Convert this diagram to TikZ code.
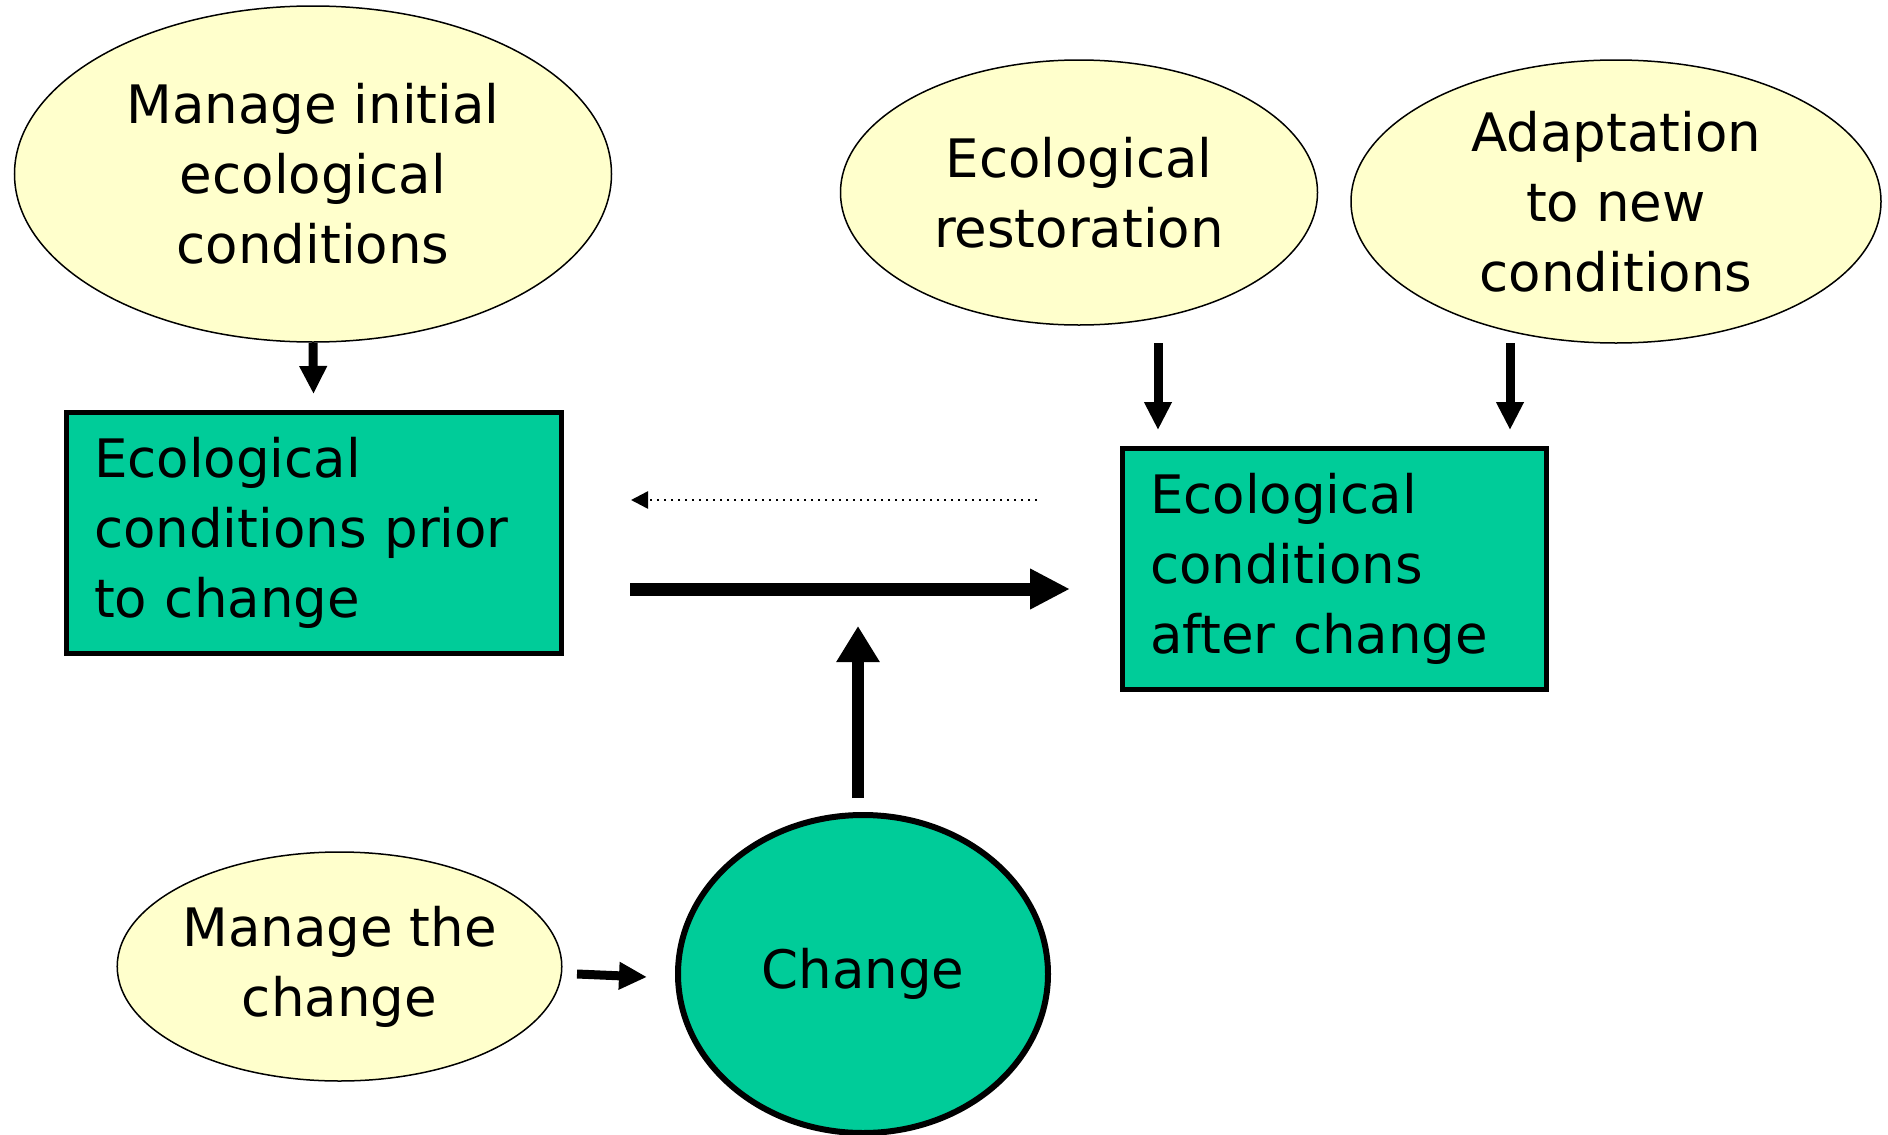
\documentclass[tikz,border=0pt]{standalone}
\usepackage{fontspec}
\setmainfont{DejaVu Sans}
\usetikzlibrary{shapes.geometric,arrows.meta}
\definecolor{ecogreen}{RGB}{0,204,153}
\definecolor{paleyellow}{RGB}{255,255,204}
\begin{document}
\begin{tikzpicture}[x=1pt,y=-1pt,
  txt/.style={font=\fontsize{53}{70}\selectfont},
  oval/.style={ellipse,draw=black,line width=1.5pt,fill=paleyellow,inner sep=0pt,align=center,txt},
  stagebox/.style={rectangle,draw=black,line width=5pt,fill=ecogreen,inner xsep=28pt,inner ysep=0pt,align=left,txt},
  changeoval/.style={ellipse,draw=black,line width=6pt,fill=ecogreen,inner sep=0pt,txt},
  bigarrow/.style={line width=13pt,-{Triangle[length=40pt,width=38pt]}},
  uparrow/.style={line width=12pt,-{Triangle[length=36pt,width=41pt]}},
  smallarrow/.style={line width=9pt,-{Triangle[length=28pt,width=26pt]}},
  dotarrow/.style={line width=2.5pt,dash pattern=on 2.5pt off 4.5pt,-{Triangle[length=17pt,width=17pt]}}
]
\useasboundingbox (0,0) rectangle (1888,1135);

% nodes
\node[oval,minimum width=597pt,minimum height=336pt] (e1) at (313,174) {Manage initial\\ecological\\conditions};
\node[oval,minimum width=477pt,minimum height=265pt] (e2) at (1079,192.5) {Ecological\\restoration};
\node[oval,minimum width=530pt,minimum height=283pt] (e3) at (1616,201.5) {Adaptation\\to new\\conditions};
\node[oval,minimum width=441pt,minimum height=229pt] (e4) at (339.5,966.5) {Manage the\\change};

\node[stagebox,minimum width=495pt,minimum height=241pt,text width=439pt] (b1) at (313.5,532.5) {Ecological\\conditions prior\\to change};
\node[stagebox,minimum width=424pt,minimum height=241pt,text width=368pt] (b2) at (1334,568.5) {Ecological\\conditions\\after change};

\node[changeoval,minimum width=370pt,minimum height=318pt] (ch) at (863,974) {Change};

% connector end points
\coordinate (b1in) at (313.5,394);
\coordinate (r1s) at (1158,343);
\coordinate (r1e) at (1158,430);
\coordinate (r2s) at (1510,343);
\coordinate (r2e) at (1510,430);
\coordinate (fwds) at (630,589);
\coordinate (fwde) at (1070,589);
\coordinate (backs) at (1037,500);
\coordinate (backe) at (631,500);
\coordinate (ups) at (858,798);
\coordinate (upe) at (858,626);
\coordinate (mgs) at (577,974);
\coordinate (mge) at (647,977);

% connectors
\draw[smallarrow] (e1.south) -- (b1in);
\draw[smallarrow] (r1s) -- (r1e);
\draw[smallarrow] (r2s) -- (r2e);
\draw[bigarrow] (fwds) -- (fwde);
\draw[dotarrow] (backs) -- (backe);
\draw[uparrow] (ups) -- (upe);
\draw[smallarrow] (mgs) -- (mge);
\end{tikzpicture}
\end{document}
